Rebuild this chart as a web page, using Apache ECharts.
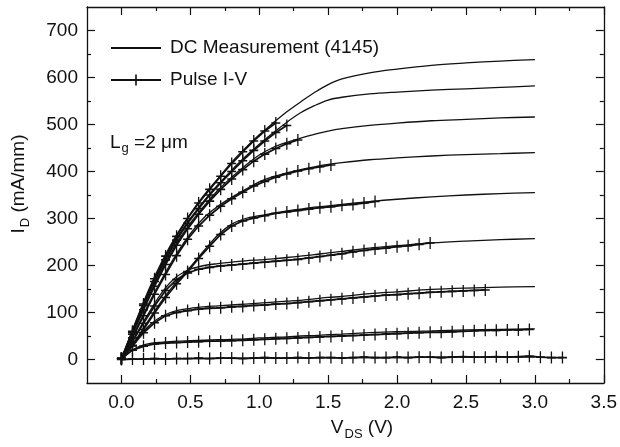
<!DOCTYPE html>
<html><head><meta charset="utf-8">
<script src="https://cdn.jsdelivr.net/npm/echarts@6/dist/echarts.min.js"></script>
<style>html,body{margin:0;padding:0;background:#fff}#c{width:620px;height:447px}</style>
</head><body><div id="c"></div>
<script>
// ---- data ----
const dcV = [0,0.1,0.2,0.3,0.4,0.5,0.6,0.7,0.8,0.9,1.0,1.1,1.2,1.3,1.4,1.5,1.6,1.8,2.0,2.25,2.5,2.75,3.0];
const dc1 = [0,78,150,212,265,310,350,385,420,450,478,503,527,548,568,585,597,610,618,626,631,635,638];
const dc2 = [0,75,145,205,257,300,338,372,403,432,458,482,505,525,540,552,558,565,569,573,576,579,582];
const dc3 = [0,70,135,195,247,290,327,360,388,413,435,451,462,471,479,486,491,498,503,508,511,514,516];
const dc4 = [0,60,120,175,225,268,302,326,345,362,378,389,397,404,410,415,419,425,429,433,436,438,440];
const dc5 = [0,40,85,128,165,197,232,265,288,300,306,311,316,320,324,327,330,336,341,346,350,353,355];
const dc6 = [0,50,100,145,176,192,200,204,207,210,212,214,217,220,223,227,230,237,242,248,252,255,257];
const dc7 = [0,38,72,93,104,109,112,114,116,118,120,122,124,126,129,132,134,140,144,149,152,154,155];
const dc8 = [0,24,34,37,39,40,41,42,43,44,46,47,48,50,51,53,54,57,59,61,63,64,65];
const dc9 = [0,1,1,2,2,2,2,3,3,3,3,3,3,3,4,4,4,4,4,5,5,5,5];

const pulseV = [0,0.08,0.16,0.24,0.32,0.40,0.48,0.56,0.64,0.72,0.80,0.88,0.96,1.04,1.12,1.20,1.28,1.36,1.44,1.52,1.60,1.68,1.76,1.84,1.92,2.00,2.08,2.16,2.24,2.32,2.40,2.48,2.56,2.64,2.72,2.80,2.88,2.96,3.04,3.12,3.20];
const p1 = [2,60,118,172,220,262,300,333,362,390,417,442,465,486,503];
const p2 = [2,58,115,166,212,254,290,321,350,376,400,423,445,465,483,498];
const p3 = [2,54,106,156,202,243,278,309,337,362,384,404,422,437,449,459,467];
const p4 = [2,46,93,139,181,221,256,284,307,326,342,356,369,379,388,395,401,406,410,414];
const p5 = [2,30,64,99,132,161,187,215,241,266,284,295,301,306,311,314,317,320,323,325,328,330,333,336];
const p6 = [2,38,77,114,147,170,184,192,196,199,201,203,205,207,209,211,213,216,219,222,225,229,232,235,237,240,242,245,248];
const p7 = [2,29,57,78,93,100,104,107,109,110,112,113,115,116,118,119,121,123,125,127,129,131,133,135,137,138,140,141,143,144,145,146,147,148];
const p8 = [2,20,28,33,35,36,37,38,39,39,40,41,42,43,44,45,46,47,48,49,50,51,52,53,54,55,56,57,58,58,59,60,61,62,62,63,63,64];
const p9 = [0,1,1,2,1,2,2,3,2,3,3,2,3,4,3,3,4,3,4,4,3,4,5,4,4,5,4,5,5,4,5,6,5,5,6,5,6,7,5,4,4];

const xMajor = [0,0.5,1.0,1.5,2.0,2.5,3.0,3.5];
const xMinor = [0.25,0.75,1.25,1.75,2.25,2.75,3.25];
const yMajor = [0,100,200,300,400,500,600,700];
const yMinor = [50,150,250,350,450,550,650];
const dcName = 'DC Measurement (4145)';
const pulseName = 'Pulse I-V';

// ---- chart ----
const INK = '#111';
const FONT = 'Liberation Sans';
const plus = 'path://M-1.3,-10H1.3V-1.3H9V1.3H1.3V10H-1.3V1.3H-9V-1.3H-1.3Z';
const chart = echarts.init(document.getElementById('c'), null, {renderer:'canvas'});

function xAx(pos, vals, len, line, labels){
  return {type:'value', position:pos, min:-0.25, max:3.5,
    axisLine:{show:line, onZero:false, lineStyle:{color:INK, width:1.3}},
    axisTick:{show:true, inside:true, length:len, customValues:vals, lineStyle:{color:INK, width:1.2}},
    axisLabel:{show:labels, customValues:xMajor, margin:10, color:INK, fontFamily:FONT, fontSize:19, formatter:v=>Number(v).toFixed(1)},
    splitLine:{show:false}, minorTick:{show:false}};
}
function yAx(pos, vals, len, line, labels){
  return {type:'value', position:pos, min:-50, max:750,
    axisLine:{show:line, onZero:false, lineStyle:{color:INK, width:1.3}},
    axisTick:{show:true, inside:true, length:len, customValues:vals, lineStyle:{color:INK, width:1.2}},
    axisLabel:{show:labels, customValues:yMajor, margin:9, color:INK, fontFamily:FONT, fontSize:19},
    splitLine:{show:false}, minorTick:{show:false}};
}

const dcSets = [dc1,dc2,dc3,dc4,dc5,dc6,dc7,dc8,dc9];
const pSets = [p1,p2,p3,p4,p5,p6,p7,p8,p9];
const series = [];
dcSets.forEach(arr=>{
  series.push({name:dcName, type:'line', xAxisIndex:0, yAxisIndex:0, smooth:0.35,
    symbol:'rect', showSymbol:false, data:arr.map((v,i)=>[dcV[i],v]),
    lineStyle:{color:INK, width:1.3}, itemStyle:{color:INK, opacity:0}, z:2, silent:true, animation:false});
});
pSets.forEach(arr=>{
  series.push({name:pulseName, type:'line', xAxisIndex:0, yAxisIndex:0,
    symbol:plus, symbolSize:[9,12], showSymbol:true, data:arr.map((v,i)=>[pulseV[i],v]),
    lineStyle:{color:INK, width:1.8}, itemStyle:{color:INK}, z:3, silent:true, animation:false});
});

chart.setOption({
  animation:false,
  backgroundColor:'#fff',
  grid:{left:87, right:16, top:7, bottom:64, containLabel:false},
  xAxis:[xAx('bottom',xMajor,8,true,true), xAx('bottom',xMinor,4,false,false),
         xAx('top',xMajor,8,true,false), xAx('top',xMinor,4,false,false)],
  yAxis:[yAx('left',yMajor,8,true,true), yAx('left',yMinor,4,false,false),
         yAx('right',yMajor,8,true,false), yAx('right',yMinor,4,false,false)],
  legend:{show:true, orient:'vertical', left:105, top:33, itemWidth:50, itemHeight:14, itemGap:12,
    data:[{name:dcName},{name:pulseName}],
    textStyle:{color:INK, fontFamily:FONT, fontSize:19, lineHeight:20, padding:[0,0,0,4]}, selectedMode:false},
  graphic:[
    {type:'text', left:110, top:133, style:{text:'{a|L}{s|g}{a| =2 \u03bcm}', rich:{
      a:{fontFamily:FONT, fontSize:19, fill:INK},
      s:{fontFamily:FONT, fontSize:13, fill:INK, padding:[12,0,0,1]}}}},
    {type:'text', x:19, y:184, rotation:Math.PI/2, style:{text:'{a|I}{s|D}{a| (mA/mm)}', align:'center', verticalAlign:'middle', rich:{
      a:{fontFamily:FONT, fontSize:19, fill:INK},
      s:{fontFamily:FONT, fontSize:13, fill:INK, padding:[12,0,0,1]}}}},
    {type:'text', x:362, y:428, style:{text:'{a|V}{s|DS}{a| (V)}', align:'center', verticalAlign:'middle', rich:{
      a:{fontFamily:FONT, fontSize:19, fill:INK},
      s:{fontFamily:FONT, fontSize:13, fill:INK, padding:[12,0,0,1]}}}}
  ],
  series:series
});
</script></body></html>
